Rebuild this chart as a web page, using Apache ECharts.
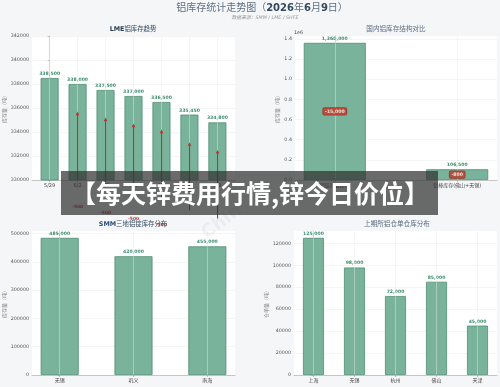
<!DOCTYPE html>
<html>
<head>
<meta charset="utf-8">
<script src="https://cdn.jsdelivr.net/npm/echarts@6/dist/echarts.min.js"></script>
<style>
  html, body { margin: 0; padding: 0; background: #f4f6f8; }
  #main { width: 500px; height: 387px; }
</style>
</head>
<body>
<div id="main"></div>
<script>
// LME铝库存趋势
var lmeDates = ['5/29', '6/2', '6/3', '6/4', '6/5', '6/8', '6/9']
var lmeStock = [338500, 338000, 337500, 337000, 336500, 335450, 334800]
var lmeTicks = [330000, 332000, 334000, 336000, 338000, 340000, 342000]
// 国内铝库存结构对比
var domesticNames = ['铝锭社会库存', '铝棒库存(佛山+无锡)']
var domesticStock = [1360000, 106500]
var domesticChange = [-15000, -800]
var domesticTicks = [0, 200000, 400000, 600000, 800000, 1000000, 1200000, 1400000]
// SMM三地铝锭库存分布
var smmPlaces = ['无锡', '巩义', '南海']
var smmStock = [485000, 420000, 455000]
var smmTicks = [0, 100000, 200000, 300000, 400000, 500000]
// 上期所铝仓单仓库分布
var shfePlaces = ['上海', '无锡', '杭州', '佛山', '天津']
var shfeStock = [125000, 98000, 72000, 85000, 45000]
var shfeTicks = [0, 20000, 40000, 60000, 80000, 100000, 120000]

var FONT = "'DejaVu Sans', 'Noto Sans CJK SC', sans-serif"
var BAR_FILL = '#7ab39b'
var BAR_EDGE = '#4f8d72'
var LABEL_GREEN = '#3f8f6f'
var ARROW_RED = '#b03a2e'

function fmt (v) {
  return Number(v).toLocaleString('en-US')
}

// 柱状图的x轴用数值轴, 类目放在整数位置上
function xAxisFor (gridIndex, names, min, max, z) {
  var idx = names.map(function (n, i) { return i })
  return {
    type: 'value',
    gridIndex: gridIndex,
    min: min,
    max: max,
    z: z,
    axisLine: { show: true, lineStyle: { color: '#bbb', width: 0.8 } },
    axisTick: { show: true, customValues: idx, length: 2, lineStyle: { color: '#999', width: 0.6 } },
    axisLabel: {
      customValues: idx,
      formatter: function (v) { return names[Math.round(v)] },
      fontSize: 5,
      color: '#444',
      margin: 3
    },
    splitLine: { show: false }
  }
}

function yAxisFor (gridIndex, ticks, max, name, nameGap, z, labelFmt) {
  return {
    type: 'value',
    gridIndex: gridIndex,
    min: ticks[0],
    max: max,
    interval: ticks[1] - ticks[0],
    z: z,
    name: name,
    nameLocation: 'middle',
    nameGap: nameGap,
    nameTextStyle: { fontSize: 5, color: '#888' },
    axisLine: { show: true, lineStyle: { color: '#bbb', width: 0.8 } },
    axisTick: { show: true, customValues: ticks, length: 2, lineStyle: { color: '#999', width: 0.6 } },
    axisLabel: {
      customValues: ticks,
      formatter: labelFmt || function (v) { return String(v) },
      fontSize: 4.8,
      color: '#555',
      margin: 3
    },
    splitLine: { show: true, lineStyle: { color: '#eeeeee', width: 0.6 } }
  }
}

function barSeries (k, names, values, barWidth, z) {
  return {
    type: 'bar',
    xAxisIndex: k,
    yAxisIndex: k,
    z: z,
    barWidth: barWidth,
    data: values.map(function (v, i) { return [i, v] }),
    itemStyle: { color: BAR_FILL, borderColor: BAR_EDGE, borderWidth: 0.8 },
    label: {
      show: true,
      position: 'top',
      distance: 2,
      formatter: function (p) { return fmt(p.value[1]) },
      fontSize: 4.6,
      fontWeight: 'bold',
      color: LABEL_GREEN
    },
    markLine: {
      silent: true,
      symbol: 'none',
      z: z + 1,
      animation: false,
      label: { show: false },
      lineStyle: { color: 'rgba(235,235,235,0.55)', width: 0.8, type: 'solid' },
      data: names.map(function (n, i) { return { xAxis: i } })
    }
  }
}

// LME 环比变化箭头
var lmeChanges = []
for (var i = 1; i < lmeStock.length; i++) {
  lmeChanges.push([i, lmeStock[i], lmeStock[i] - lmeStock[i - 1]])
}

var chart = echarts.init(document.getElementById('main'))

var option = {
  animation: false,
  backgroundColor: '#f4f6f8',
  textStyle: { fontFamily: FONT },
  grid: [
    { left: 32, top: 36, width: 203, height: 144, show: true, backgroundColor: '#fff', borderWidth: 0, z: 0 },
    { left: 295, top: 36, width: 202, height: 144, show: true, backgroundColor: '#fff', borderWidth: 0, z: 0 },
    { left: 32, top: 231, width: 203, height: 144, show: true, backgroundColor: '#fff', borderWidth: 0, z: 5 },
    { left: 294, top: 231, width: 203, height: 144, show: true, backgroundColor: '#fff', borderWidth: 0, z: 5 }
  ],
  xAxis: [
    xAxisFor(0, lmeDates, -0.63, 6.63, 1),
    xAxisFor(1, domesticNames, -0.325, 1.325, 1),
    xAxisFor(2, smmPlaces, -0.375, 2.375, 6),
    xAxisFor(3, shfePlaces, -0.475, 4.475, 6)
  ],
  yAxis: [
    yAxisFor(0, lmeTicks, 342000, '库存量（吨）', 22, 1),
    yAxisFor(1, domesticTicks, 1428000, '库存量（吨）', 14, 1, function (v) { return (v / 1e6).toFixed(1) }),
    yAxisFor(2, smmTicks, 509250, '库存量（吨）', 24, 6),
    yAxisFor(3, shfeTicks, 131250, '仓单量（吨）', 23, 6)
  ],
  series: [
    barSeries(0, lmeDates, lmeStock, 18, 2),
    barSeries(1, domesticNames, domesticStock, 62, 2),
    barSeries(2, smmPlaces, smmStock, 38, 6),
    barSeries(3, shfePlaces, shfeStock, 21, 6),
    {
      type: 'custom',
      xAxisIndex: 0,
      yAxisIndex: 0,
      z: 4,
      clip: false,
      data: lmeChanges,
      renderItem: function (params, api) {
        var x = api.value(0)
        var v = api.value(1)
        var ch = api.value(2)
        var tip = api.coord([x, v - 2300])
        var tail = api.coord([x, v - 8000])
        var txt = api.coord([x, v - 10200])
        var px = Math.floor(tip[0])
        return {
          type: 'group',
          children: [
            { type: 'rect', shape: { x: px, y: tip[1] + 2, width: 1.1, height: tail[1] - tip[1] - 2 }, style: { fill: ARROW_RED } },
            { type: 'polygon', shape: { points: [[px + 0.55, tip[1]], [px - 1.3, tip[1] + 3.6], [px + 2.4, tip[1] + 3.6]] }, style: { fill: ARROW_RED } },
            { type: 'text', x: txt[0], y: txt[1], style: { text: fmt(ch), fill: '#c0392b', fontSize: 4.4, fontWeight: 'bold', fontFamily: FONT, align: 'center', verticalAlign: 'middle' } }
          ]
        }
      }
    },
    {
      type: 'scatter',
      xAxisIndex: 1,
      yAxisIndex: 1,
      z: 8,
      symbolSize: 0.1,
      itemStyle: { color: 'rgba(0,0,0,0)' },
      data: domesticStock.map(function (v, i) { return [i, v / 2, domesticChange[i]] }),
      label: {
        show: true,
        position: 'inside',
        formatter: function (p) { return fmt(p.value[2]) },
        fontSize: 4.6,
        fontWeight: 'bold',
        color: '#fff',
        backgroundColor: '#c0392b',
        borderColor: '#8e2a20',
        borderWidth: 0.6,
        borderRadius: 1.5,
        padding: [1.2, 2]
      }
    }
  ],
  graphic: [
    {
      type: 'text', x: 262, y: 8, z: 10,
      style: {
        text: '{n|铝库存统计走势图（}{b|2026}{n|年}{b|6}{n|月}{b|9}{n|日）}',
        align: 'center', verticalAlign: 'middle',
        rich: {
          n: { fontSize: 10, fontFamily: FONT, fill: '#5f6f80' },
          b: { fontSize: 10, fontFamily: FONT, fontWeight: 'bold', fill: '#34495e' }
        }
      }
    },
    {
      type: 'text', x: 265, y: 17.5, z: 10,
      style: { text: '数据来源：SMM / LME / SHFE', fontSize: 4.8, fontStyle: 'italic', fontFamily: FONT, fill: '#9a9a9a', align: 'center', verticalAlign: 'middle' }
    },
    {
      type: 'text', x: 133, y: 29, z: 10,
      style: {
        text: '{b|LME}{n|铝库存趋势}', align: 'center', verticalAlign: 'middle',
        rich: {
          b: { fontSize: 6.4, fontWeight: 'bold', fontFamily: FONT, fill: '#2c3e50' },
          n: { fontSize: 6.4, fontFamily: FONT, fill: '#34495e' }
        }
      }
    },
    {
      type: 'text', x: 396, y: 29, z: 10,
      style: { text: '国内铝库存结构对比', fontSize: 6.6, fontFamily: FONT, fill: '#5a6d80', align: 'center', verticalAlign: 'middle' }
    },
    {
      type: 'text', x: 294, y: 32.5, z: 10,
      style: { text: '1e6', fontSize: 4.8, fontFamily: FONT, fill: '#444', align: 'left', verticalAlign: 'middle' }
    },
    {
      type: 'text', x: 133, y: 224, z: 10,
      style: {
        text: '{b|SMM}{n|三地铝锭库存分布}', align: 'center', verticalAlign: 'middle',
        rich: {
          b: { fontSize: 6.4, fontWeight: 'bold', fontFamily: FONT, fill: '#2c4f7c' },
          n: { fontSize: 6.4, fontFamily: FONT, fill: '#34495e' }
        }
      }
    },
    {
      type: 'text', x: 397, y: 224, z: 10,
      style: { text: '上期所铝仓单仓库分布', fontSize: 6.6, fontFamily: FONT, fill: '#5a6d80', align: 'center', verticalAlign: 'middle' }
    },
    {
      type: 'text', x: 222, y: 222, z: 20, rotation: Math.PI / 5,
      style: { text: 'Chin', fontSize: 18, fontWeight: 'bold', fontFamily: FONT, fill: 'rgba(150,150,150,0.1)', align: 'center', verticalAlign: 'middle' }
    },
    {
      type: 'rect', z: 100,
      shape: { x: 61, y: 171, width: 377, height: 44 },
      style: { fill: 'rgba(50,50,50,0.72)' }
    },
    {
      type: 'text', x: 250, y: 193, z: 101,
      style: { text: '【每天锌费用行情,锌今日价位】', fontSize: 25, fontWeight: 'bold', fontFamily: "'Noto Sans CJK SC', sans-serif", fill: '#fff', align: 'center', verticalAlign: 'middle' }
    }
  ]
}

chart.setOption(option)
window.addEventListener('resize', function () {
  chart.resize()
})
</script>
</body>
</html>
